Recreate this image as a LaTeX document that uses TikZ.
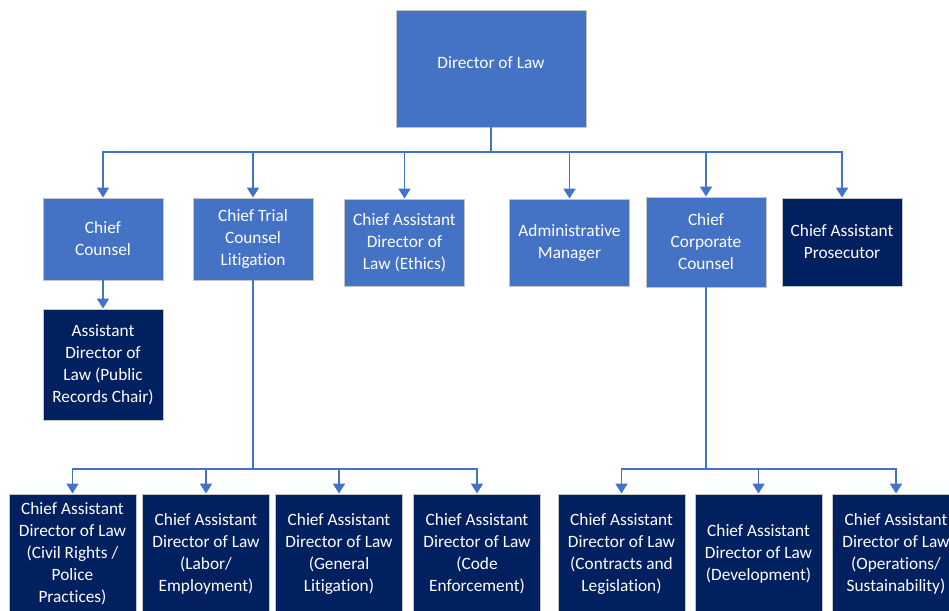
\documentclass[tikz,border=0pt]{standalone}
\usepackage{fontspec}
\setmainfont{Carlito}[RawFeature={-liga;-clig;-dlig;-calt}]
\usetikzlibrary{arrows.meta}

\definecolor{midblue}{HTML}{4472C4}
\definecolor{navy}{HTML}{002060}
\definecolor{boxedge}{HTML}{C4C4C4}

\tikzset{
  orgbox/.style={rectangle, draw=boxedge, line width=0.9pt, text=white,
    align=center, inner sep=0pt,
    font=\fontsize{17.3}{22}\selectfont},
  lightbox/.style={orgbox, fill=midblue},
  darkbox/.style={orgbox, fill=navy},
  rowbox/.style={minimum width=120pt},
  leafbox/.style={darkbox, minimum width=127pt, minimum height=120pt},
  conn/.style={draw=midblue, line width=1.8pt,
    -{Triangle[width=12pt,length=10pt]}},
  trunk/.style={draw=midblue, line width=1.8pt},
  lbl/.style={text=white, align=center, inner sep=0pt,
    font=\fontsize{17.3}{22}\selectfont}
}

\begin{document}
\begin{tikzpicture}[x=1pt, y=-1pt]
  \useasboundingbox (0,0) rectangle (949,610);
  \clip (0,0) rectangle (949,610);

  % top of the chart
  \node[lightbox, minimum width=190pt, minimum height=117pt] (dir) at (491,68.5) {};
  \node[lbl] (dirtext) at (491,63) {Director of Law};

  % second level
  \node[lightbox, rowbox, minimum height=82pt] (cc)  at (103,239) {Chief\\Counsel};
  \node[lightbox, rowbox, minimum height=82pt] (ctc) at (253,239) {Chief Trial\\Counsel\\Litigation};
  \node[lightbox, rowbox, minimum height=87pt] (eth) at (404.5,242.5) {Chief Assistant\\Director of\\Law (Ethics)};
  \node[lightbox, rowbox, minimum height=87pt] (am)  at (569.5,242.5) {Administrative\\Manager};
  \node[lightbox, rowbox, minimum height=90pt] (ccc) at (706,242) {Chief\\Corporate\\Counsel};
  \node[darkbox,  rowbox, minimum height=88pt] (cap) at (842,242) {Chief Assistant\\Prosecutor};

  % under Chief Counsel
  \node[darkbox, rowbox, minimum height=111pt] (pub) at (103,364.5) {Assistant\\Director of\\Law (Public\\Records Chair)};

  % third level
  \node[leafbox] (civ) at (72.5,554) {Chief Assistant\\Director of Law\\(Civil Rights /\\Police\\Practices)};
  \node[leafbox] (lab) at (206,554) {Chief Assistant\\Director of Law\\(Labor/\\Employment)};
  \node[leafbox] (gen) at (339,554) {Chief Assistant\\Director of Law\\(General\\Litigation)};
  \node[leafbox] (cod) at (477,554) {Chief Assistant\\Director of Law\\(Code\\Enforcement)};
  \node[leafbox] (con) at (621.5,554) {Chief Assistant\\Director of Law\\(Contracts and\\Legislation)};
  \node[leafbox] (dev) at (758.5,554) {Chief Assistant\\Director of Law\\(Development)};
  \node[leafbox] (ops) at (896,554) {Chief Assistant\\Director of Law\\(Operations/\\Sustainability)};

  % branch points
  \coordinate (jtop) at (491,152);
  \coordinate (jlit) at (253,469);
  \coordinate (jcorp) at (706,469);

  % director to second level
  \draw[trunk] (dir.south) -- (jtop);
  \foreach \t in {cc,ctc,eth,am,ccc,cap}
    \draw[conn] (jtop) -| (\t.north);

  % chief counsel to public records
  \draw[conn] (cc.south) -- (pub.north);

  % litigation branch
  \draw[trunk] (ctc.south) -- (jlit);
  \foreach \t in {civ,lab,gen,cod}
    \draw[conn] (jlit) -| (\t.north);

  % corporate branch
  \draw[trunk] (ccc.south) -- (jcorp);
  \foreach \t in {con,dev,ops}
    \draw[conn] (jcorp) -| (\t.north);
\end{tikzpicture}
\end{document}
